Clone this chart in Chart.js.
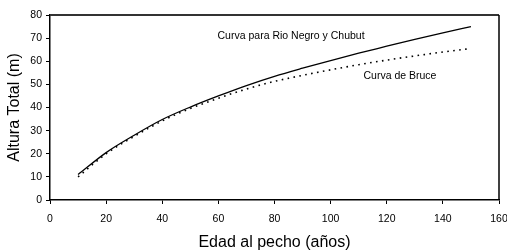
<!DOCTYPE html>
<html>
<head>
<meta charset="utf-8">
<script src="https://cdn.jsdelivr.net/npm/chart.js@4/dist/chart.umd.min.js"></script>
<style>
  html, body { margin: 0; padding: 0; background: #fff; }
  #wrap { width: 507px; height: 251px; }
</style>
</head>
<body>
<div id="wrap"><canvas id="myChart" width="507" height="251"></canvas></div>
<script>
'use strict';

// edad al pecho (años)
const edades = [10, 20, 30, 40, 50, 60, 70, 80, 90, 100, 110, 120, 130, 140, 150];
// altura total (m)
const rioNegroChubut = [11, 20.5, 28, 34.8, 40.2, 45, 49.5, 53.5, 57, 60.3, 63.5, 66.5, 69.5, 72.3, 75];
const bruce = [10, 20, 27.5, 34.2, 39.6, 44, 48, 51.3, 53.9, 56.3, 58.5, 60.5, 62.3, 64, 65.5];
const xTicks = [0, 20, 40, 60, 80, 100, 120, 140, 160];
const yTicks = [0, 10, 20, 30, 40, 50, 60, 70, 80];

const etiquetas = [
  { text: 'Curva para Rio Negro y Chubut', x: 59.7, y: 70.8 },
  { text: 'Curva de Bruce', x: 111.7, y: 53.5 }
];

function toPoints(xs, ys) {
  return xs.map((x, i) => ({ x: x, y: ys[i] }));
}

const fontFam = '"Liberation Sans", Arial, sans-serif';

// marco superior / derecho y etiquetas de texto
const plotExtras = {
  id: 'plotExtras',
  afterDraw(chart) {
    const ctx = chart.ctx;
    const a = chart.chartArea;
    ctx.save();
    ctx.strokeStyle = '#333';
    ctx.lineWidth = 2;
    ctx.beginPath();
    ctx.moveTo(a.left, a.top);
    ctx.lineTo(a.right, a.top);
    ctx.stroke();
    ctx.strokeStyle = '#000';
    ctx.lineWidth = 1.5;
    ctx.beginPath();
    ctx.moveTo(a.right, a.top);
    ctx.lineTo(a.right, a.bottom);
    ctx.stroke();

    ctx.fillStyle = '#000';
    ctx.font = '10.5px ' + fontFam;
    ctx.textAlign = 'left';
    ctx.textBaseline = 'middle';
    const sx = chart.scales.x, sy = chart.scales.y;
    etiquetas.forEach(e => {
      ctx.fillText(e.text, sx.getPixelForValue(e.x), sy.getPixelForValue(e.y));
    });
    ctx.restore();
  }
};

const ctx = document.getElementById('myChart').getContext('2d');

const chart = new Chart(ctx, {
  type: 'scatter',
  data: {
    datasets: [{
      label: 'Curva para Rio Negro y Chubut',
      data: toPoints(edades, rioNegroChubut),
      showLine: true,
      borderColor: '#000',
      borderWidth: 1.3,
      pointRadius: 0,
      cubicInterpolationMode: 'monotone',
      fill: false
    }, {
      label: 'Curva de Bruce',
      data: toPoints(edades, bruce),
      showLine: true,
      borderColor: '#000',
      borderWidth: 1.6,
      borderDash: [1.6, 4.4],
      pointRadius: 0,
      cubicInterpolationMode: 'monotone',
      fill: false
    }]
  },
  options: {
    responsive: false,
    animation: false,
    layout: { padding: { top: 15, right: 2, left: 0, bottom: 0 } },
    plugins: {
      legend: { display: false },
      tooltip: { enabled: false }
    },
    scales: {
      x: {
        type: 'linear',
        min: 0,
        max: 160,
        afterBuildTicks(axis) { axis.ticks = xTicks.map(v => ({ value: v })); },
        afterFit(axis) { axis.height = 51; axis.paddingRight = 8; },
        grid: { drawOnChartArea: false, drawTicks: true, tickLength: 4, color: '#000' },
        border: { display: true, color: '#000', width: 1.5 },
        ticks: { color: '#000', padding: 9, maxRotation: 0, font: { family: fontFam, size: 10.5 } },
        title: {
          display: true,
          text: 'Edad al pecho (años)',
          color: '#000',
          font: { family: fontFam, size: 16, lineHeight: 1 },
          padding: 0
        }
      },
      y: {
        type: 'linear',
        min: 0,
        max: 80,
        afterBuildTicks(axis) { axis.ticks = yTicks.map(v => ({ value: v })); },
        afterFit(axis) { axis.width = 50; },
        grid: { drawOnChartArea: false, drawTicks: true, tickLength: 4, color: '#000' },
        border: { display: true, color: '#000', width: 1.5 },
        ticks: { color: '#000', padding: 4, font: { family: fontFam, size: 10.5 } },
        title: {
          display: true,
          text: 'Altura Total (m)',
          color: '#000',
          font: { family: fontFam, size: 16, lineHeight: 1.2 },
          padding: { top: 5, bottom: 0 }
        }
      }
    }
  },
  plugins: [plotExtras]
});
</script>
</body>
</html>
